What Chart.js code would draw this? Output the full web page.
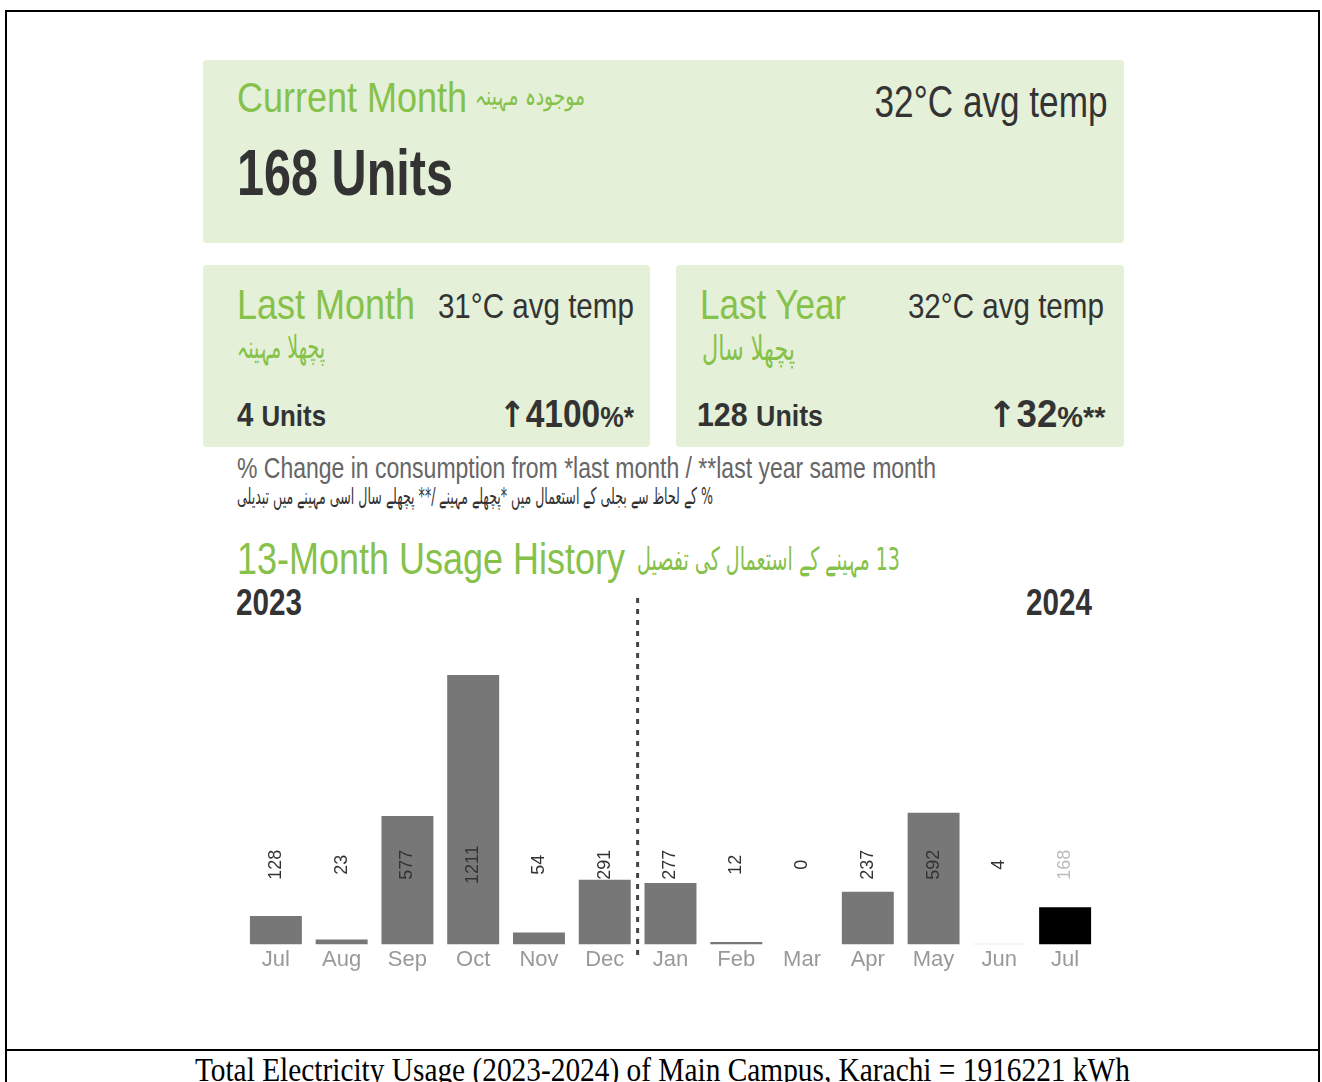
<!DOCTYPE html>
<html lang="en">
<head>
  <meta charset="UTF-8">
  <title>13-Month Usage History</title>
  <style>
    body { margin: 0; background: #fff; }
    .frame {
      position: absolute; left: 5px; top: 10px; width: 1311px; height: 1100px;
      border: 2px solid #000; border-bottom: none;
    }
    .caption {
      position: absolute; left: 5px; top: 1049px; width: 1315px; height: 40px;
      border-top: 2px solid #000; text-align: center; overflow: hidden;
    }
    .caption span {
      display: inline-block; font-family: "Liberation Serif", "Times New Roman", serif;
      font-size: 34px; line-height: 1; margin-top: 2px; color: #000; white-space: nowrap;
    }
    .sans { font-family: "Liberation Sans", Arial, sans-serif; }
    .urdu { font-family: "DejaVu Sans", "Noto Sans", sans-serif; direction: rtl; unicode-bidi: isolate; }
    .arrow { font-family: "DejaVu Sans", sans-serif; font-weight: bold; }
    .panel { position: absolute; background: #e4f0d8; border-radius: 4px; }
    .green { color: #86c14a; }
    .dark { color: #333; }
    .abs { position: absolute; white-space: nowrap; line-height: 1; }
    #chartBox { position: absolute; left: 200px; top: 590px; width: 940px; height: 400px; }
  </style>
</head>
<body>
<div class="frame"></div>

<!-- Current month -->
<div class="panel" style="left:203px; top:60px; width:921px; height:183px;"></div>
<div class="abs sans green" data-w="230" style="left:237px; top:76px; font-size:43px;">Current Month</div>
<div class="abs urdu green" data-w="110" style="left:475px; top:82px; font-size:27px;">موجودہ مہینہ</div>
<div class="abs sans dark" data-w="233" data-o="right" style="right:214px; top:80px; font-size:44px;">32°C avg temp</div>
<div class="abs sans dark" data-w="216" style="left:237px; top:140px; font-size:65px; font-weight:bold;">168 Units</div>

<!-- Last month -->
<div class="panel" style="left:203px; top:265px; width:447px; height:182px;"></div>
<div class="abs sans green" data-w="178" style="left:237px; top:283px; font-size:43px;">Last Month</div>
<div class="abs sans dark" data-w="196" data-o="right" style="right:688px; top:288px; font-size:35px;">31°C avg temp</div>
<div class="abs urdu green" data-w="88" style="left:237px; top:331px; font-size:32px;">پچھلا مہینہ</div>
<div class="abs sans dark" data-w="89" style="left:237px; top:397px; font-size:34px; font-weight:bold;">4 <span style="font-size:30px;">Units</span></div>
<div class="abs sans dark" data-w="135" data-o="right" style="right:688px; top:395px; font-size:38px; font-weight:bold;"><span class="arrow" style="font-size:36px;">↑</span>4100<span style="font-size:30px;">%*</span></div>

<!-- Last year -->
<div class="panel" style="left:676px; top:265px; width:448px; height:182px;"></div>
<div class="abs sans green" data-w="146" style="left:700px; top:283px; font-size:43px;">Last Year</div>
<div class="abs sans dark" data-w="196" data-o="right" style="right:218px; top:288px; font-size:35px;">32°C avg temp</div>
<div class="abs urdu green" data-w="93" style="left:702px; top:331px; font-size:34px;">پچھلا سال</div>
<div class="abs sans dark" data-w="126" style="left:697px; top:397px; font-size:34px; font-weight:bold;">128 <span style="font-size:30px;">Units</span></div>
<div class="abs sans dark" data-w="118" data-o="right" style="right:217px; top:395px; font-size:38px; font-weight:bold;"><span class="arrow" style="font-size:36px;">↑</span>32<span style="font-size:30px;">%**</span></div>

<!-- notes -->
<div class="abs sans" data-w="699" style="left:237px; top:453px; font-size:30px; color:#666;">% Change in consumption from *last month / **last year same month</div>
<div class="abs urdu dark" data-w="476" style="left:237px; top:482px; font-size:23px; line-height:1.3;">% کے لحاظ سے بجلی کے استعمال میں *پچھلے مہینے /** پچھلے سال اسی مہینے میں تبدیلی</div>

<div class="abs sans green" data-w="388" style="left:237px; top:537px; font-size:44px;">13-Month Usage History</div>
<div class="abs urdu green" data-w="263" style="left:637px; top:543px; font-size:32px;">13 مہینے کے استعمال کی تفصیل</div>
<div class="abs sans dark" data-w="66" style="left:236px; top:585px; font-size:36px; font-weight:bold;">2023</div>
<div class="abs sans dark" data-w="66" data-o="right" style="right:230px; top:585px; font-size:36px; font-weight:bold;">2024</div>

<div id="chartBox"><canvas id="usageChart"></canvas></div>

<div class="caption"><span data-w="935" data-o="center">Total Electricity Usage (2023-2024) of Main Campus, Karachi = 1916221 kWh</span></div>

<script src="https://cdn.jsdelivr.net/npm/chart.js"></script>
<script>
  // chart data
  const months = ['Jul', 'Aug', 'Sep', 'Oct', 'Nov', 'Dec', 'Jan', 'Feb', 'Mar', 'Apr', 'May', 'Jun', 'Jul'];
  const units = [128, 23, 577, 1211, 54, 291, 277, 12, 0, 237, 592, 4, 168];
  const yearSplitAfter = 5; // Dec 2023 | Jan 2024

  const sansFont = '"Liberation Sans", Arial, sans-serif';
  const barColors = units.map((v, i) => i === units.length - 1 ? '#000' : (v < 5 ? '#dcdcdc' : '#777'));
  const labelColors = units.map((v, i) => i === units.length - 1 ? '#bbb' : '#333');
  const labelLevel = 359; // value labels all sit on one line

  // squeeze the page texts to the condensed look of the original
  function fitTexts() {
    document.querySelectorAll('[data-w]').forEach(el => {
      el.style.transform = 'none';
      const w = el.getBoundingClientRect().width;
      const s = parseFloat(el.dataset.w) / w;
      el.style.transformOrigin = (el.dataset.o || 'left') + ' center';
      el.style.transform = 'scaleX(' + s.toFixed(4) + ')';
    });
  }
  fitTexts();
  if (document.fonts) document.fonts.ready.then(fitTexts);

  // dotted year divider + rotated value labels
  const extras = {
    id: 'extras',
    afterDatasetsDraw(chart) {
      const ctx = chart.ctx;
      const x = chart.scales.x;
      const y = chart.scales.y;
      const area = chart.chartArea;

      const xd = (x.getPixelForValue(yearSplitAfter) + x.getPixelForValue(yearSplitAfter + 1)) / 2;
      ctx.save();
      ctx.strokeStyle = '#444';
      ctx.lineWidth = 3;
      ctx.setLineDash([5, 6]);
      ctx.beginPath();
      ctx.moveTo(xd, area.top - 1);
      ctx.lineTo(xd, area.bottom + 16);
      ctx.stroke();
      ctx.restore();

      const ly = y.getPixelForValue(labelLevel);
      units.forEach((v, i) => {
        ctx.save();
        ctx.translate(x.getPixelForValue(i), ly);
        ctx.rotate(-Math.PI / 2);
        ctx.font = '18px ' + sansFont;
        ctx.fillStyle = labelColors[i];
        ctx.textAlign = 'center';
        ctx.textBaseline = 'middle';
        ctx.fillText(String(v), 0, 0);
        ctx.restore();
      });
    }
  };

  new Chart(document.getElementById('usageChart'), {
    type: 'bar',
    data: {
      labels: months,
      datasets: [{
        data: units,
        backgroundColor: barColors,
        borderWidth: 0,
        barPercentage: 0.79,
        categoryPercentage: 1
      }]
    },
    options: {
      responsive: true,
      maintainAspectRatio: false,
      animation: false,
      layout: { padding: { left: 43, right: 42, top: 9, bottom: 15 } },
      plugins: { legend: { display: false }, tooltip: { enabled: false } },
      scales: {
        x: {
          grid: { display: false, drawTicks: false },
          border: { display: false },
          ticks: { color: '#999', font: { family: sansFont, size: 22 }, padding: 2 }
        },
        y: { display: false, min: 0, max: 1552 }
      }
    },
    plugins: [extras]
  });
</script>
</body>
</html>
